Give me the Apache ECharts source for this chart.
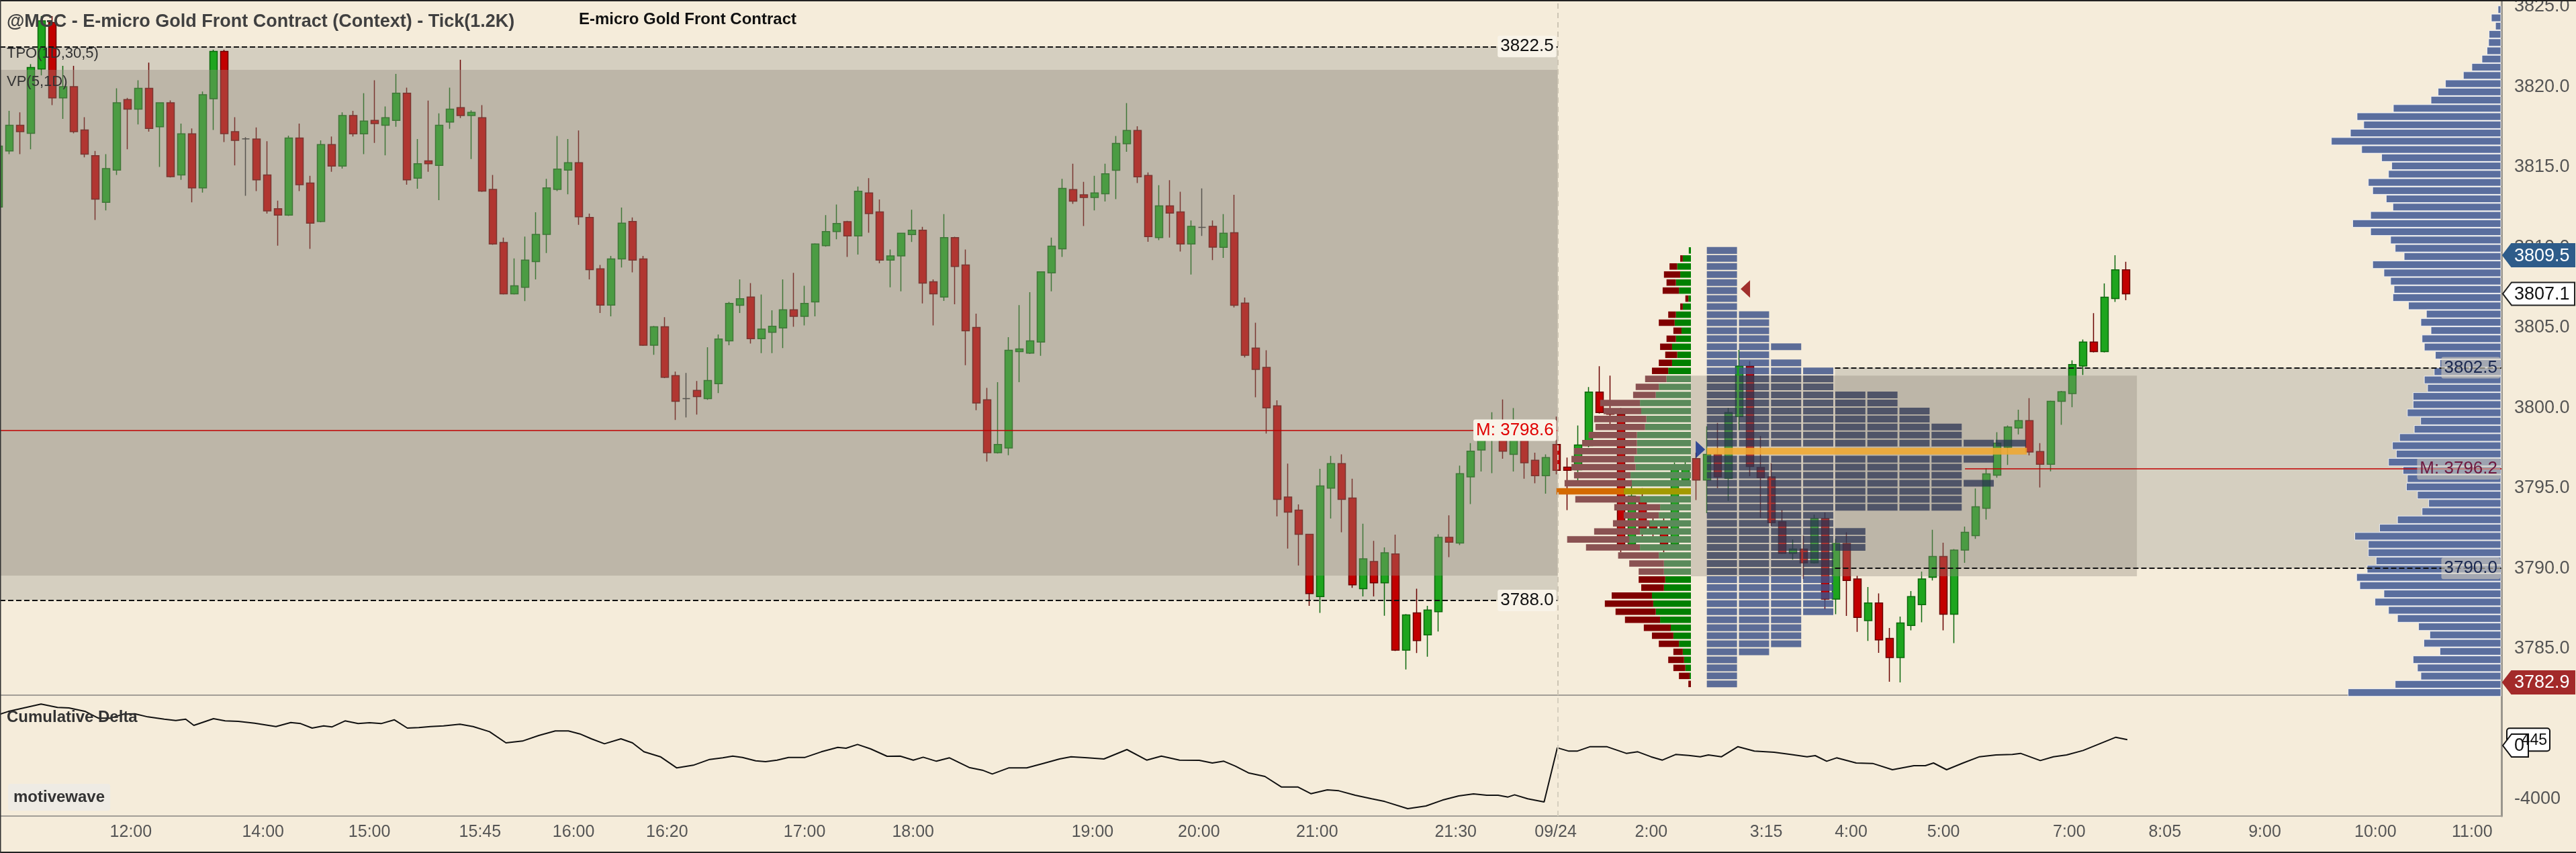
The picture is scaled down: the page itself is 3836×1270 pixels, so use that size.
<!DOCTYPE html>
<html>
<head>
<meta charset="utf-8">
</head>
<body style="margin: 0; background: #f5ecda">
<div id="container" style="width: 3836px; height: 1270px"></div>
<script type="text/javascript" src="https://cdn.jsdelivr.net/npm/echarts@6/dist/echarts.min.js"></script>
<script type="text/javascript">
var dom = document.getElementById("container");
var myChart = echarts.init(dom);

// 1.2K tick bars, [open, high, low, close]
var bars = [
  [3812.5, 3816.8, 3812.0, 3816.3], [3816.0, 3818.5, 3815.8, 3817.6], [3817.6, 3818.4, 3815.8, 3817.2],
  [3817.1, 3821.4, 3816.1, 3821.2], [3821.1, 3824.4, 3820.7, 3824.1], [3824.0, 3824.4, 3818.85, 3819.3],
  [3819.3, 3821.3, 3818.0, 3820.0], [3820.0, 3821.3, 3817.1, 3817.2], [3817.3, 3818.1, 3815.6, 3815.8],
  [3815.7, 3816.0, 3811.7, 3813.0], [3812.8, 3815.8, 3812.3, 3814.9], [3814.8, 3819.9, 3814.5, 3819.0],
  [3819.2, 3819.3, 3816.1, 3818.6], [3818.6, 3820.4, 3817.65, 3819.9], [3819.9, 3821.5, 3817.2, 3817.4],
  [3817.5, 3819.0, 3815.0, 3819.0], [3819.0, 3819.15, 3814.35, 3814.4], [3814.5, 3817.7, 3814.2, 3817.06],
  [3817.06, 3817.4, 3812.8, 3813.7], [3813.7, 3819.7, 3813.4, 3819.5], [3819.25, 3822.3, 3817.3, 3822.2],
  [3822.2, 3822.3, 3816.55, 3817.07], [3817.2, 3818.1, 3815.1, 3816.66], [3816.75, 3816.85, 3813.2, 3816.75],
  [3816.74, 3817.46, 3813.5, 3814.2], [3814.5, 3816.6, 3812.1, 3812.26], [3812.4, 3812.9, 3810.1, 3812.0],
  [3812.0, 3816.95, 3811.95, 3816.8], [3816.8, 3817.7, 3813.5, 3813.9], [3814.0, 3814.45, 3809.9, 3811.5],
  [3811.6, 3816.66, 3811.55, 3816.4], [3816.4, 3816.9, 3814.7, 3815.06], [3815.06, 3818.4, 3814.9, 3818.2],
  [3818.2, 3818.5, 3816.9, 3817.06], [3817.06, 3819.6, 3815.8, 3817.86], [3817.9, 3820.4, 3816.5, 3817.7],
  [3817.6, 3818.77, 3815.73, 3818.07], [3817.9, 3820.8, 3817.5, 3819.6], [3819.6, 3819.94, 3813.9, 3814.2],
  [3814.3, 3816.74, 3813.64, 3815.2], [3815.38, 3819.14, 3814.7, 3815.2], [3815.1, 3818.34, 3812.93, 3817.6],
  [3817.8, 3819.94, 3817.38, 3818.6], [3818.7, 3821.68, 3818.05, 3818.2], [3818.2, 3818.53, 3815.5, 3818.4],
  [3818.07, 3818.85, 3813.45, 3813.5], [3813.6, 3814.5, 3810.15, 3810.2], [3810.3, 3810.6, 3807.05, 3807.1],
  [3807.1, 3809.3, 3807.05, 3807.6], [3807.5, 3810.66, 3806.65, 3809.2], [3809.1, 3812.18, 3808.0, 3810.8],
  [3810.8, 3814.26, 3809.64, 3813.7], [3813.6, 3816.93, 3813.5, 3814.87], [3814.8, 3816.74, 3813.3, 3815.27],
  [3815.27, 3817.27, 3811.4, 3811.9], [3811.86, 3812.1, 3808.0, 3808.6], [3808.66, 3808.9, 3805.9, 3806.4],
  [3806.4, 3809.46, 3805.7, 3809.27], [3809.27, 3812.47, 3808.74, 3811.5], [3811.6, 3811.86, 3808.44, 3809.2],
  [3809.27, 3809.46, 3803.85, 3803.9], [3803.9, 3805.1, 3803.3, 3805.05], [3805.05, 3805.64, 3801.85, 3801.9],
  [3802.0, 3802.25, 3799.24, 3800.4], [3800.57, 3802.17, 3799.4, 3800.57], [3801.08, 3801.67, 3799.58, 3800.7],
  [3800.57, 3803.77, 3800.5, 3801.7], [3801.5, 3804.57, 3800.92, 3804.28], [3804.17, 3806.6, 3803.9, 3806.5],
  [3806.39, 3808.0, 3805.9, 3806.79], [3806.9, 3807.77, 3804.0, 3804.3], [3804.3, 3807.05, 3803.4, 3804.9],
  [3804.7, 3806.07, 3803.4, 3805.08], [3804.97, 3808.0, 3803.72, 3806.1], [3806.1, 3808.4, 3805.05, 3805.7],
  [3805.7, 3807.6, 3805.13, 3806.5], [3806.6, 3810.25, 3805.7, 3810.2], [3810.1, 3812.0, 3810.04, 3810.98],
  [3810.98, 3812.66, 3810.5, 3811.48], [3811.59, 3811.65, 3809.4, 3810.7], [3810.7, 3813.78, 3809.54, 3813.49],
  [3813.38, 3814.3, 3810.9, 3812.1], [3812.2, 3812.98, 3809.0, 3809.2], [3809.2, 3809.86, 3807.5, 3809.46],
  [3809.46, 3810.9, 3807.25, 3810.87], [3810.79, 3812.34, 3810.33, 3811.06], [3811.06, 3811.27, 3806.5, 3807.77],
  [3807.85, 3808.0, 3805.13, 3807.1], [3806.9, 3812.07, 3806.66, 3810.6], [3810.6, 3810.65, 3806.45, 3808.8],
  [3808.9, 3809.86, 3802.65, 3804.8], [3805.0, 3805.86, 3799.85, 3800.3], [3800.5, 3801.24, 3796.65, 3797.2],
  [3797.2, 3801.6, 3797.15, 3797.72], [3797.5, 3804.4, 3797.05, 3803.58], [3803.5, 3806.4, 3801.6, 3803.67],
  [3803.4, 3807.2, 3803.35, 3804.17], [3804.1, 3808.5, 3803.24, 3808.47], [3808.4, 3810.6, 3807.25, 3810.07],
  [3809.9, 3814.26, 3809.4, 3813.67], [3813.59, 3815.2, 3812.7, 3812.87], [3813.27, 3814.07, 3811.32, 3813.1],
  [3813.1, 3814.45, 3812.3, 3813.38], [3813.33, 3815.2, 3812.85, 3814.58], [3814.79, 3816.93, 3813.0, 3816.47],
  [3816.45, 3818.98, 3815.94, 3817.27], [3817.27, 3817.54, 3814.0, 3814.39], [3814.47, 3814.66, 3810.34, 3810.66],
  [3810.6, 3813.86, 3810.44, 3812.58], [3812.58, 3814.18, 3810.6, 3812.13], [3812.2, 3813.46, 3809.73, 3810.2],
  [3810.2, 3811.67, 3808.3, 3811.3], [3811.24, 3813.67, 3810.7, 3811.24], [3811.3, 3811.67, 3809.2, 3810.0],
  [3809.99, 3812.07, 3809.33, 3810.87], [3810.9, 3813.27, 3806.25, 3806.39], [3806.52, 3806.87, 3803.13, 3803.27],
  [3803.72, 3805.3, 3800.65, 3802.39], [3802.52, 3803.58, 3798.4, 3800.0], [3800.12, 3800.47, 3793.24, 3794.3],
  [3794.44, 3796.52, 3791.23, 3793.5], [3793.63, 3793.98, 3790.17, 3792.12], [3792.12, 3792.15, 3787.66, 3788.43],
  [3788.24, 3796.2, 3787.23, 3795.13], [3795.0, 3797.0, 3793.1, 3796.52], [3796.52, 3797.1, 3792.25, 3794.3],
  [3794.38, 3795.58, 3788.78, 3788.97], [3788.73, 3792.78, 3788.25, 3790.59], [3790.43, 3791.71, 3788.25, 3789.1],
  [3789.1, 3791.3, 3787.05, 3790.97], [3790.9, 3792.1, 3784.85, 3784.9], [3784.9, 3787.15, 3783.7, 3787.1],
  [3787.23, 3788.73, 3784.72, 3785.5], [3785.85, 3787.66, 3784.5, 3787.4], [3787.3, 3792.12, 3786.06, 3791.93],
  [3791.93, 3793.3, 3790.7, 3791.63], [3791.58, 3796.4, 3791.45, 3795.9], [3795.7, 3797.8, 3794.0, 3797.3],
  [3797.37, 3798.97, 3796.03, 3798.1], [3798.1, 3799.72, 3795.93, 3798.9], [3798.1, 3800.52, 3796.83, 3797.3],
  [3797.1, 3799.98, 3796.03, 3797.98], [3797.98, 3798.0, 3795.58, 3796.57], [3796.73, 3797.2, 3795.3, 3795.77],
  [3795.77, 3797.1, 3794.65, 3796.9],
  // 09/24 session
  [3797.72, 3799.45, 3795.85, 3796.1], [3796.3, 3796.9, 3793.63, 3796.1], [3796.14, 3798.9, 3795.3, 3797.68],
  [3797.64, 3801.29, 3797.54, 3800.98], [3800.98, 3802.59, 3799.64, 3799.7], [3799.7, 3802.0, 3799.0, 3799.6],
  [3799.6, 3800.0, 3791.0, 3791.5], [3791.5, 3795.5, 3791.2, 3794.5], [3794.4, 3795.0, 3792.0, 3792.5],
  [3792.9, 3793.4, 3791.9, 3792.5], [3792.9, 3793.3, 3791.0, 3791.5], [3791.5, 3796.6, 3791.2, 3796.2],
  [3795.5, 3796.8, 3795.2, 3796.2], [3796.84, 3797.2, 3794.25, 3795.5], [3795.5, 3798.84, 3793.44, 3797.1],
  [3797.1, 3799.05, 3795.0, 3795.7], [3795.6, 3800.0, 3794.2, 3799.7], [3799.45, 3803.6, 3798.6, 3802.6],
  [3802.6, 3802.9, 3795.74, 3796.34], [3796.28, 3798.24, 3793.14, 3795.64], [3795.7, 3796.54, 3792.64, 3792.84],
  [3792.9, 3793.64, 3790.9, 3790.94], [3790.94, 3791.8, 3790.54, 3791.2], [3791.2, 3792.04, 3789.34, 3790.34],
  [3790.34, 3793.34, 3790.3, 3793.1], [3793.1, 3793.48, 3787.44, 3788.08], [3788.08, 3791.84, 3787.14, 3791.54],
  [3791.54, 3792.24, 3787.04, 3789.24], [3789.34, 3789.54, 3786.04, 3786.94], [3786.74, 3788.84, 3785.48, 3787.84],
  [3787.84, 3788.44, 3784.74, 3785.54], [3785.64, 3786.28, 3782.94, 3784.44], [3784.44, 3787.0, 3782.9, 3786.6],
  [3786.44, 3788.58, 3786.14, 3788.24], [3787.74, 3789.8, 3786.64, 3789.34], [3789.44, 3792.4, 3789.24, 3790.74],
  [3790.74, 3791.6, 3786.14, 3787.14], [3787.14, 3791.2, 3785.34, 3791.14], [3791.14, 3792.6, 3790.34, 3792.24],
  [3792.04, 3794.98, 3791.84, 3793.84], [3793.74, 3796.24, 3793.04, 3795.88], [3795.8, 3798.48, 3795.64, 3797.8],
  [3797.54, 3798.9, 3796.44, 3798.8], [3798.74, 3799.88, 3798.34, 3799.2], [3799.2, 3800.6, 3797.04, 3797.24],
  [3797.28, 3797.8, 3795.04, 3796.48], [3796.48, 3800.45, 3796.04, 3800.4], [3800.4, 3801.05, 3798.94, 3801.0],
  [3800.88, 3802.95, 3800.04, 3802.69], [3802.6, 3804.25, 3802.05, 3804.09], [3804.09, 3805.89, 3803.45, 3803.5],
  [3803.5, 3807.75, 3803.45, 3806.89], [3806.8, 3809.5, 3806.6, 3808.59], [3808.59, 3809.09, 3806.7, 3807.1]
];

// time axis labels, placed at bar positions
var timeTickBars = [12.3, 24.6, 34.5, 44.8, 53.5, 62.2, 75.0, 85.1, 101.8, 111.7, 122.7, 135.6, 144.9,
  153.8, 164.5, 172.4, 181.0, 192.7, 201.6, 210.9, 221.2, 230.2];
var timeTickLabels = ['12:00', '14:00', '15:00', '15:45', '16:00', '16:20', '17:00', '18:00', '19:00', '20:00',
  '21:00', '21:30', '09/24', '2:00', '3:15', '4:00', '5:00', '7:00', '8:05', '9:00', '10:00', '11:00'];
var priceTicks = [3785, 3790, 3795, 3800, 3805, 3810, 3815, 3820, 3825];
var deltaTicks = [-4000];

// cumulative delta, [bar position, value]
var deltaPoints = [
  [0.12, 2352], [0.88, 2554], [3.94, 3108], [5.47, 2856], [6.54, 2822], [8.07, 2554], [9.29, 2050], [10.36, 2050],
  [11.59, 2352], [12.66, 2386], [13.88, 2150], [15.41, 1982], [16.48, 1882], [17.4, 1982], [18.16, 1512],
  [19.99, 2016], [21.07, 1848], [22.29, 1814], [23.82, 1680], [25.8, 1428], [27.18, 1730], [28.1, 1646],
  [29.17, 1310], [30.24, 1478], [31.0, 1394], [32.23, 1848], [33.45, 1646], [34.52, 1714], [35.59, 1646],
  [36.81, 1932], [38.03, 1310], [39.1, 1344], [40.18, 1428], [41.4, 1478], [42.93, 1596], [44.15, 1428],
  [45.68, 1042], [47.21, 202], [48.74, 336], [50.27, 756], [51.8, 1092], [53.02, 1092], [54.09, 874],
  [55.16, 504], [56.38, 134], [57.91, 504], [58.98, 202], [60.05, -470], [61.58, -840], [63.11, -1680],
  [64.64, -1478], [66.17, -1042], [67.39, -924], [68.31, -790], [69.22, -890], [70.45, -1142], [71.37, -1210],
  [72.44, -1092], [73.51, -890], [75.04, -890], [76.56, -470], [78.09, -134], [78.86, -202], [79.93, 84],
  [81.15, -252], [82.68, -806], [83.9, -790], [85.12, -1092], [86.04, -874], [87.27, -1176], [88.49, -924],
  [90.32, -1646], [91.55, -1848], [92.47, -2134], [93.99, -1680], [95.68, -1680], [97.2, -1344], [98.73, -1008],
  [99.8, -840], [101.33, -924], [102.86, -1008], [105.0, -302], [106.84, -1092], [108.21, -790], [109.9, -1092],
  [111.73, -1109], [112.95, -1310], [114.02, -1176], [115.09, -1546], [116.31, -2050], [117.84, -2318],
  [119.37, -3108], [120.9, -3108], [122.12, -3612], [123.65, -3326], [124.72, -3394], [126.25, -3730],
  [127.78, -3998], [129.0, -4200], [131.14, -4738], [132.83, -4536], [134.36, -4099], [135.88, -3780],
  [137.26, -3629], [138.48, -3730], [139.55, -3730], [140.47, -3864], [141.08, -3696], [142.3, -3998],
  [143.83, -4234], [145.06, -168], [146.13, -420], [146.9, -420], [148.12, -84], [149.65, -84], [151.48, -588],
  [152.55, -470], [153.77, -840], [154.84, -1092], [156.07, -672], [157.29, -739], [158.36, -840], [159.12, -706],
  [160.34, -840], [161.87, -84], [163.4, -420], [165.24, -504], [166.77, -672], [168.3, -840], [169.06, -756],
  [170.13, -1176], [171.05, -924], [172.88, -1310], [174.41, -1344], [176.25, -1814], [178.24, -1512],
  [179.31, -1512], [180.07, -1310], [181.29, -1814], [182.82, -1310], [184.35, -840], [185.88, -706],
  [187.41, -672], [188.17, -588], [190.01, -1126], [191.23, -840], [192.46, -706], [193.99, -370],
  [197.04, 622], [198.11, 445]
];

// 09/24 volume profile by 0.5 row, top row first (ask / bid volume)
var vpGreen = [5, 19, 32, 25, 35, 28, 6, 19, 35, 38, 22, 35, 44, 32, 44, 53, 57, 75, 82, 119, 116, 104, 107, 126,
  126, 126, 132, 129, 141, 138, 157, 119, 72, 75, 97, 119, 144, 119, 75, 63, 63, 60, 63, 91, 88, 82, 72, 47, 41,
  28, 19, 16, 13, 3, 0];
var vpRed = [0, 6, 18, 38, 22, 38, 7, 6, 18, 37, 19, 22, 28, 28, 31, 38, 50, 54, 53, 93, 88, 122, 116, 113, 128,
  147, 147, 150, 132, 157, 157, 151, 107, 82, 85, 107, 145, 126, 95, 81, 59, 62, 53, 94, 113, 94, 82, 63, 50, 47,
  22, 37, 28, 25, 6];
// 09/24 TPO periods per row, same rows
var tpoCount = [1, 1, 1, 1, 1, 1, 1, 1, 2, 2, 2, 2, 3, 2, 3, 4, 4, 4, 6, 6, 7, 7, 8, 8, 10, 10, 9, 8, 8, 9, 8, 8,
  8, 4, 4, 5, 5, 5, 4, 4, 4, 4, 4, 4, 4, 4, 3, 3, 3, 3, 2, 1, 1, 1, 1];
var rowTop = 3809.8, rowStep = 0.5;
var vaLow = 3789.8, vaHigh = 3801.8, vpPoc = 3794.8, tpoPoc = 3797.3;

// composite volume profile, top row first
var compVolume = [12, 41, 23, 51, 53, 60, 82, 126, 163, 241, 273, 304, 468, 626, 597, 655, 738, 606, 519, 475,
  489, 577, 558, 499, 470, 567, 645, 567, 480, 460, 421, 558, 509, 480, 465, 470, 402, 324, 348, 304, 343, 333,
  285, 265, 290, 333, 319, 382, 382, 407, 349, 377, 441, 472, 455, 489, 426, 407, 411, 363, 314, 343, 450, 528,
  636, 577, 577, 543, 582, 628, 614, 509, 548, 489, 450, 358, 309, 335, 265, 382, 363, 348, 460, 665];
var compTop = 3824.8, compStep = 0.5125;

// value areas: [fromBar, toBar, high, low]
var lightBands = [[0.119, 145.1, 3822.5, 3788.0], [170.9, 232.93, 3802.5, 3790.0]];
var darkBoxes = [[0.119, 145.1, 3821.05, 3789.55], [157.5, 199.0, 3802.0, 3789.5]];
var sessionBreak = 145.1;

var FONT = '"Liberation Sans", Arial, sans-serif';
var priceMin = 3782.1, priceMax = 3825.4;
var barMin = 0.119, barMax = 232.93;

var candleData = bars.map(function (b, i) { return [i, b[0], b[3], b[2], b[1]]; });

function rowKind(p, poc) {
  if (Math.abs(p - poc) < 0.01) return 2;
  return (p >= vaLow - 0.01 && p <= vaHigh + 0.01) ? 1 : 0;
}
var vpData = vpGreen.map(function (g, k) {
  var p = +(rowTop - k * rowStep).toFixed(2);
  return [p, g, vpRed[k], rowKind(p, vpPoc)];
});
var tpoData = tpoCount.map(function (n, k) {
  var p = +(rowTop - k * rowStep).toFixed(2);
  return [p, n, rowKind(p, tpoPoc)];
});
var compData = compVolume.map(function (v, k) { return [compTop - k * compStep, v]; });

var vpColors = [['#008000', '#800000'], ['#5a8a5a', '#8a5252'], ['#a39a00', '#d46a00']];
var tpoColors = ['rgba(62,84,138,0.84)', 'rgba(40,50,82,0.74)', 'rgba(240,168,48,0.88)'];

function boxRenderer(fill) {
  return function (params, api) {
    var a = api.coord([api.value(0), api.value(2)]);
    var b = api.coord([api.value(1), api.value(3)]);
    return { type: 'rect', shape: { x: a[0], y: a[1], width: b[0] - a[0], height: b[1] - a[1] }, style: { fill: fill } };
  };
}

function renderVP(params, api) {
  var p = api.value(0), g = api.value(1), r = api.value(2), kind = api.value(3);
  var h = api.size([0, rowStep])[1] * 0.8;
  var a = api.coord([0, p]), b = api.coord([g, p]), c = api.coord([g + r, p]);
  return {
    type: 'group',
    children: [
      { type: 'rect', shape: { x: b[0], y: a[1] - h / 2, width: a[0] - b[0], height: h }, style: { fill: vpColors[kind][0] } },
      { type: 'rect', shape: { x: c[0], y: a[1] - h / 2, width: b[0] - c[0], height: h }, style: { fill: vpColors[kind][1] } }
    ]
  };
}

function renderTPO(params, api) {
  var p = api.value(0), n = api.value(1), kind = api.value(2);
  var h = api.size([0, rowStep])[1] * 0.84;
  var children = [];
  if (kind === 2) {
    var s = api.coord([0, p]), e = api.coord([n - 0.03, p]);
    children.push({ type: 'rect', shape: { x: s[0], y: s[1] - h / 2, width: e[0] - s[0], height: h }, style: { fill: tpoColors[2] } });
  } else {
    for (var j = 0; j < n; j++) {
      var a = api.coord([j, p]), b = api.coord([j + 0.94, p]);
      children.push({ type: 'rect', shape: { x: a[0], y: a[1] - h / 2, width: b[0] - a[0], height: h },
        style: { fill: tpoColors[kind] } });
    }
  }
  return { type: 'group', children: children };
}

function renderComposite(params, api) {
  var p = api.value(0), v = api.value(1);
  var a = api.coord([v, p]), b = api.coord([0, p]);
  var h = api.size([0, compStep])[1];
  return {
    type: 'rect',
    shape: { x: a[0], y: a[1] - h / 2 + 0.6, width: b[0] - a[0], height: h - 1.2 },
    style: { fill: '#5a6e9e', stroke: '#ffffff', lineWidth: 0.8 }
  };
}

function levelLine(from, to, price, text, type, color, textColor, bg) {
  return [
    {
      coord: [from, price],
      lineStyle: { type: type, color: color, width: type === 'solid' ? 1.5 : 2 },
      label: {
        show: true, position: 'insideEnd', distance: 2, formatter: text, color: textColor,
        fontFamily: FONT, fontSize: 26, backgroundColor: bg, padding: [4, 4, 2, 4], borderRadius: 3
      }
    },
    { coord: [to, price] }
  ];
}

option = {
  animation: false,
  backgroundColor: '#f5ecda',
  title: [
    { text: '@MGC - E-micro Gold Front Contract (Context) - Tick(1.2K)', left: 10, top: 19, padding: 0,
      textStyle: { fontFamily: FONT, fontSize: 27, fontWeight: 'bold', color: '#404040' } },
    { text: 'E-micro Gold Front Contract', left: 862, top: 17, padding: 0,
      textStyle: { fontFamily: FONT, fontSize: 24, fontWeight: 'bold', color: '#111' } },
    { text: 'TPO(1D,30,5)', left: 10, top: 69, padding: 0,
      textStyle: { fontFamily: FONT, fontSize: 22, fontWeight: 'normal', color: '#333' } },
    { text: 'VP(5,1D)', left: 10, top: 111, padding: 0,
      textStyle: { fontFamily: FONT, fontSize: 22, fontWeight: 'normal', color: '#333' } },
    { text: 'Cumulative Delta', left: 10, top: 1056, padding: 0,
      textStyle: { fontFamily: FONT, fontSize: 24, fontWeight: 'bold', color: '#333' } },
    { text: 'motivewave', left: 12, top: 1167, padding: [8, 8, 8, 8], backgroundColor: '#eeebe4', borderRadius: 4,
      textStyle: { fontFamily: FONT, fontSize: 24, fontWeight: 'bold', color: '#333' } }
  ],
  grid: [
    { left: 0, top: 0, width: 3725, height: 1035, outerBoundsMode: 'none' },
    { left: 0, top: 1036, width: 3725, height: 179, outerBoundsMode: 'none' },
    { left: 2318, top: 0, width: 200, height: 1035, outerBoundsMode: 'none' },
    { left: 2517.8, top: 0, width: 525.8, height: 1035, outerBoundsMode: 'none' },
    { left: 3424, top: 0, width: 300, height: 1035, outerBoundsMode: 'none' }
  ],
  xAxis: [
    { gridIndex: 0, type: 'value', min: barMin, max: barMax,
      axisLine: { show: true, onZero: false, lineStyle: { color: '#a29e96', width: 2 } },
      axisTick: { show: false }, axisLabel: { show: false }, splitLine: { show: false } },
    { gridIndex: 1, type: 'value', min: barMin, max: barMax,
      axisLine: { show: true, onZero: false, lineStyle: { color: '#a29e96', width: 2 } },
      axisTick: { show: false }, splitLine: { show: false },
      axisLabel: {
        customValues: timeTickBars, color: '#555', fontFamily: FONT, fontSize: 25, margin: 12,
        formatter: function (v) {
          for (var k = 0; k < timeTickBars.length; k++) {
            if (Math.abs(timeTickBars[k] - v) < 0.01) return timeTickLabels[k];
          }
          return '';
        }
      } },
    { gridIndex: 2, type: 'value', min: 0, max: 313.6, inverse: true, show: false },
    { gridIndex: 3, type: 'value', min: -0.5, max: 10.5, show: false },
    { gridIndex: 4, type: 'value', min: 0, max: 877.5, inverse: true, show: false }
  ],
  yAxis: [
    { gridIndex: 0, type: 'value', position: 'right', min: priceMin, max: priceMax,
      axisLine: { show: true, onZero: false, lineStyle: { color: '#9a968e', width: 3 } },
      axisTick: { show: false }, splitLine: { show: false },
      axisLabel: { customValues: priceTicks, color: '#555', fontFamily: FONT, fontSize: 27, margin: 19,
        formatter: function (v) { return v.toFixed(1); } } },
    { gridIndex: 1, type: 'value', position: 'right', min: -5292, max: 3730,
      axisLine: { show: true, onZero: false, lineStyle: { color: '#9a968e', width: 3 } },
      axisTick: { show: false }, splitLine: { show: false },
      axisLabel: { customValues: deltaTicks, color: '#555', fontFamily: FONT, fontSize: 27, margin: 19,
        formatter: function (v) { return String(Math.round(v)); } } },
    { gridIndex: 2, type: 'value', min: priceMin, max: priceMax, show: false },
    { gridIndex: 3, type: 'value', min: priceMin, max: priceMax, show: false },
    { gridIndex: 4, type: 'value', min: priceMin, max: priceMax, show: false }
  ],
  series: [
    { type: 'custom', name: 'tpo value area', xAxisIndex: 0, yAxisIndex: 0, z: 1, silent: true,
      data: lightBands, encode: { x: [0, 1], y: [2, 3] }, renderItem: boxRenderer('#d5cfc0') },
    { type: 'candlestick', name: '@MGC', xAxisIndex: 0, yAxisIndex: 0, z: 2, barWidth: 12,
      data: candleData,
      itemStyle: { color: '#1ea51e', color0: '#c20000', borderColor: '#0c680c', borderColor0: '#6a0000',
        borderColorDoji: '#333333', borderWidth: 1.5 },
      markLine: {
        silent: true, symbol: ['none', 'none'], animation: false,
        data: [
          levelLine(barMin, sessionBreak, 3822.5, '3822.5', 'dashed', '#111', '#111', '#f8f3e8'),
          levelLine(barMin, sessionBreak, 3788.0, '3788.0', 'dashed', '#111', '#111', '#f8f3e8'),
          levelLine(barMin, sessionBreak, 3798.6, 'M: 3798.6', 'solid', '#c00000', '#e00000', '#f8f3e8'),
          levelLine(170.9, barMax, 3802.5, '3802.5', 'dashed', '#111', '#1a2850', 'rgba(214,207,192,0.6)'),
          levelLine(170.9, barMax, 3790.0, '3790.0', 'dashed', '#111', '#1a2850', 'rgba(214,207,192,0.6)'),
          levelLine(183.0, barMax, 3796.2, 'M: 3796.2', 'solid', '#c00000', '#6e1840', 'rgba(214,207,192,0.55)'),
          { xAxis: sessionBreak, lineStyle: { type: [8, 6], color: '#cdc5b4', width: 2 }, label: { show: false } }
        ]
      } },
    { type: 'custom', name: 'vp value area', xAxisIndex: 0, yAxisIndex: 0, z: 3, silent: true,
      data: darkBoxes, encode: { x: [0, 1], y: [2, 3] }, renderItem: boxRenderer('rgba(150,142,130,0.38)') },
    { type: 'custom', name: 'VP(5,1D)', xAxisIndex: 2, yAxisIndex: 2, z: 4, silent: true,
      data: vpData, encode: { x: 1, y: 0 }, renderItem: renderVP },
    { type: 'custom', name: 'TPO(1D,30,5)', xAxisIndex: 3, yAxisIndex: 3, z: 4, silent: true,
      data: tpoData, encode: { x: 1, y: 0 }, renderItem: renderTPO },
    { type: 'scatter', name: 'tpo marks', xAxisIndex: 3, yAxisIndex: 3, z: 5, silent: true, symbol: 'triangle',
      data: [
        { value: [-0.2, 3797.4], symbolRotate: -90, symbolSize: [26, 14], itemStyle: { color: '#0b2c8c' } },
        { value: [1.2, 3807.4], symbolRotate: 90, symbolSize: [26, 14], itemStyle: { color: '#8b0000' } }
      ] },
    { type: 'custom', name: 'composite profile', xAxisIndex: 4, yAxisIndex: 4, z: 4, silent: true,
      data: compData, encode: { x: 1, y: 0 }, renderItem: renderComposite },
    { type: 'line', name: 'Cumulative Delta', xAxisIndex: 1, yAxisIndex: 1, z: 3, data: deltaPoints,
      showSymbol: false, lineStyle: { color: '#111', width: 2 },
      markLine: { silent: true, symbol: ['none', 'none'], animation: false,
        data: [{ xAxis: sessionBreak, lineStyle: { type: [8, 6], color: '#d6cfbf', width: 2 }, label: { show: false } }] } }
  ]
};

myChart.setOption(option);

// price markers on the right scale
function pointerBox(y, text, fill, stroke, color, x0, x1, half, size) {
  return {
    type: 'group', z: 100,
    children: [
      { type: 'polygon', z: 100,
        shape: { points: [[x0, y], [x0 + 13, y - half], [x1, y - half], [x1, y + half], [x0 + 13, y + half]] },
        style: { fill: fill, stroke: stroke, lineWidth: 2 } },
      { type: 'text', z: 101, x: x0 + 17, y: y + 1,
        style: { text: text, fill: color, font: size + 'px ' + FONT, verticalAlign: 'middle' } }
    ]
  };
}
var py = function (p) { return myChart.convertToPixel({ yAxisIndex: 0 }, p); };
var dy = function (d) { return myChart.convertToPixel({ yAxisIndex: 1 }, d); };
var lastDelta = deltaPoints[deltaPoints.length - 1][1];

myChart.setOption({
  graphic: [
    { type: 'rect', z: 100, shape: { x: 0, y: 0, width: 3836, height: 2 }, style: { fill: '#222' } },
    { type: 'rect', z: 100, shape: { x: 0, y: 1268, width: 3836, height: 2 }, style: { fill: '#222' } },
    { type: 'rect', z: 100, shape: { x: 0, y: 0, width: 1.5, height: 1270 }, style: { fill: '#333' } },
    pointerBox(py(3809.5), '3809.5', '#2e5c8a', '#2e5c8a', '#fff', 3727, 3834, 17, 27),
    pointerBox(py(3807.1), '3807.1', '#fff', '#222', '#111', 3727, 3834, 17, 27),
    pointerBox(py(3782.9), '3782.9', '#a32a2a', '#a32a2a', '#fff', 3727, 3834, 17, 27),
    { type: 'rect', z: 100, shape: { x: 3733, y: dy(lastDelta) - 17, width: 64, height: 34, r: 4 },
      style: { fill: '#fff', stroke: '#111', lineWidth: 2 } },
    { type: 'text', z: 101, x: 3793, y: dy(lastDelta) + 1,
      style: { text: String(lastDelta), fill: '#111', font: '23px ' + FONT, verticalAlign: 'middle', align: 'right' } },
    pointerBox(dy(0), '0', '#fff', '#111', '#111', 3727, 3765, 17, 27)
  ]
});
</script>
</body>
</html>
